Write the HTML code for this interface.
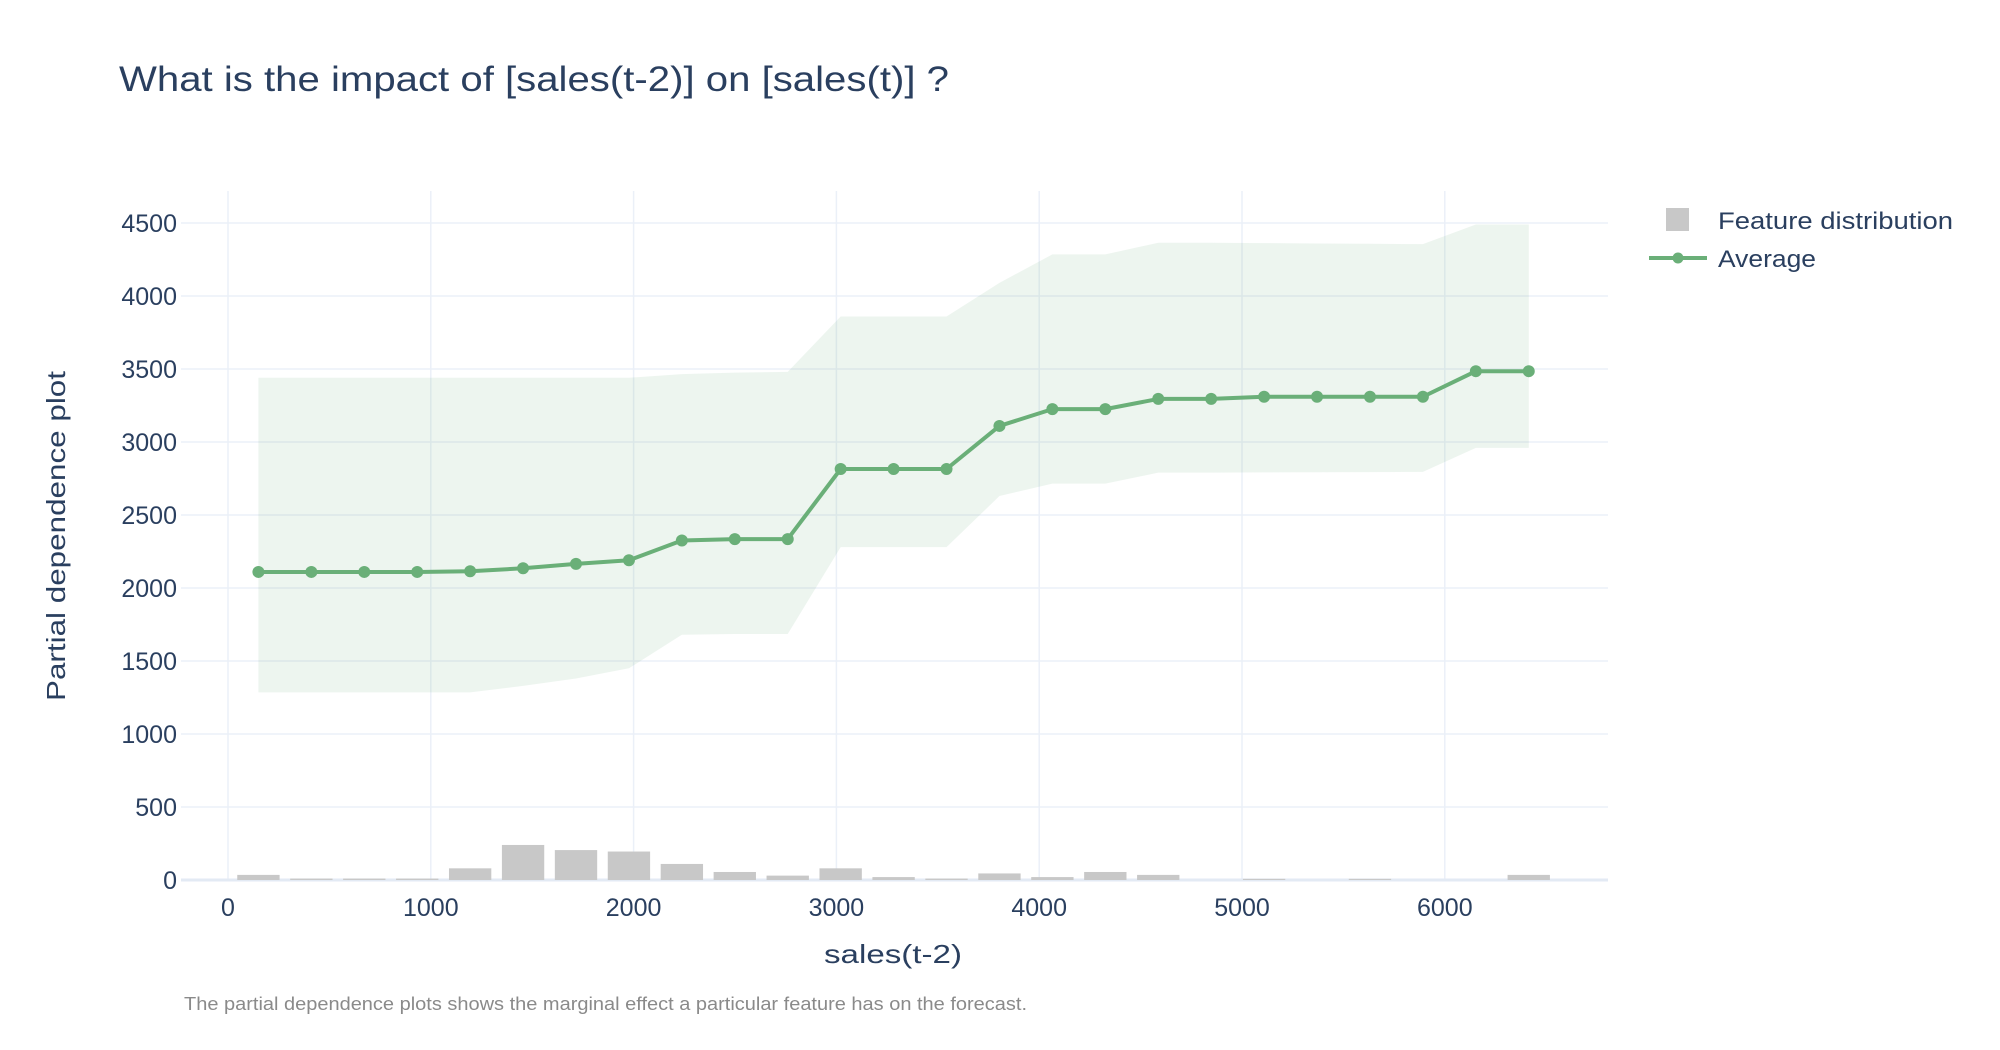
<!DOCTYPE html>
<html><head><meta charset="utf-8"><style>
html,body{margin:0;padding:0;background:#fff;}
svg{display:block;font-family:"Liberation Sans","DejaVu Sans",sans-serif;}
</style></head><body>
<svg id="chart" width="2000" height="1050" viewBox="0 0 2000 1050" xmlns="http://www.w3.org/2000/svg">
<text x="119" y="91" font-size="35" fill="#2a3f5f" textLength="830" lengthAdjust="spacingAndGlyphs">What is the impact of [sales(t-2)] on [sales(t)] ?</text>
<g id="grid"></g>
<g id="bars"></g>
<g id="band"></g>
<g id="line"></g>
<g id="ticks"></g>
<text transform="translate(65,536) rotate(-90)" text-anchor="middle" font-size="26" fill="#2a3f5f" textLength="330" lengthAdjust="spacingAndGlyphs">Partial dependence plot</text>
<text x="893" y="963" text-anchor="middle" font-size="26" fill="#2a3f5f" textLength="138" lengthAdjust="spacingAndGlyphs">sales(t-2)</text>
<text x="184" y="1010" font-size="18" fill="#8a8a8a" textLength="843" lengthAdjust="spacingAndGlyphs">The partial dependence plots shows the marginal effect a particular feature has on the forecast.</text>
<g>
<rect x="1666" y="208" width="23" height="23" fill="#c8c8c8"/>
<text x="1718" y="229" font-size="24" fill="#2a3f5f" textLength="235" lengthAdjust="spacingAndGlyphs">Feature distribution</text>
<line x1="1649" y1="258" x2="1707" y2="258" stroke="#6aaf78" stroke-width="4"/>
<circle cx="1678" cy="258" r="5.5" fill="#6aaf78"/>
<text x="1718" y="267" font-size="24" fill="#2a3f5f" textLength="98" lengthAdjust="spacingAndGlyphs">Average</text>
</g>
</svg>
<script>
const xValues = [150, 411, 672, 933, 1194, 1455, 1716, 1977, 2238, 2499, 2760, 3021, 3282, 3543, 3804, 4065, 4326, 4587, 4848, 5109, 5370, 5631, 5892, 6153, 6414];
const averageValues = [2110, 2110, 2110, 2110, 2115, 2135, 2165, 2190, 2325, 2335, 2335, 2815, 2815, 2815, 3110, 3225, 3225, 3295, 3295, 3310, 3310, 3310, 3310, 3485, 3485];
const upperValues = [3440, 3440, 3440, 3440, 3440, 3440, 3440, 3440, 3465, 3475, 3480, 3860, 3860, 3860, 4090, 4285, 4285, 4365, 4365, 4362, 4360, 4358, 4355, 4490, 4490];
const lowerValues = [1285, 1285, 1285, 1285, 1285, 1330, 1380, 1450, 1680, 1685, 1685, 2280, 2280, 2280, 2630, 2715, 2715, 2790, 2790, 2792, 2793, 2794, 2795, 2960, 2960];
const distributionValues = [35, 10, 10, 10, 80, 240, 205, 195, 110, 55, 30, 80, 20, 10, 45, 20, 55, 35, 0, 8, 0, 8, 0, 0, 35];
const xTicks = [0, 1000, 2000, 3000, 4000, 5000, 6000];
const yTicks = [0, 500, 1000, 1500, 2000, 2500, 3000, 3500, 4000, 4500];

const NS = "http://www.w3.org/2000/svg";
const plotL = 181, plotR = 1608, plotT = 191, plotB = 880;
const sx = v => 228 + v * 0.2028;
const sy = v => 880 - v * (657 / 4500);
function mk(tag, attrs, parent) {
  const e = document.createElementNS(NS, tag);
  for (const k in attrs) e.setAttribute(k, attrs[k]);
  parent.appendChild(e);
  return e;
}
const grid = document.getElementById('grid');
const ticks = document.getElementById('ticks');
xTicks.forEach(t => {
  const l = mk('line', {x1: sx(t), x2: sx(t), y1: plotT, y2: plotB, stroke: '#ebf0f8', 'stroke-width': 1.5}, grid);
  
  
  const tx = mk('text', {x: sx(t), y: 916, 'text-anchor': 'middle', 'font-size': 25, fill: '#2a3f5f'}, ticks);
  tx.textContent = t;
  
  
});
yTicks.forEach(t => {
  const l = mk('line', {x1: plotL, x2: plotR, y1: sy(t), y2: sy(t), stroke: t === 0 ? '#e3eaf4' : '#ebf0f8', 'stroke-width': t === 0 ? 3 : 1.5}, grid);
  
  
  const tx = mk('text', {x: 177, y: sy(t) + 9, 'text-anchor': 'end', 'font-size': 25, fill: '#2a3f5f'}, ticks);
  tx.textContent = t;
  
  
});
const bars = document.getElementById('bars');
const bw = 261 * 0.2028 * 0.8;
xValues.forEach((x, i) => {
  const v = distributionValues[i];
  if (v <= 0) return;
  const r = mk('rect', {x: sx(x) - bw / 2, y: sy(v), width: bw, height: sy(0) - sy(v), fill: '#c8c8c8'}, bars);
  
  
});
const band = document.getElementById('band');
let d = xValues.map((x, i) => (i ? 'L' : 'M') + sx(x) + ',' + sy(upperValues[i])).join(' ');
for (let i = xValues.length - 1; i >= 0; i--) d += ' L' + sx(xValues[i]) + ',' + sy(lowerValues[i]);
const bp = mk('path', {d: d + ' Z', fill: 'rgba(106,175,120,0.12)'}, band);


const line = document.getElementById('line');
const pl = mk('polyline', {points: xValues.map((x, i) => sx(x) + ',' + sy(averageValues[i])).join(' '), fill: 'none', stroke: '#6aaf78', 'stroke-width': 4, 'stroke-linejoin': 'round'}, line);


xValues.forEach((x, i) => {
  const c = mk('circle', {cx: sx(x), cy: sy(averageValues[i]), r: 6, fill: '#6aaf78'}, line);
  
  
});
</script>
</body></html>
